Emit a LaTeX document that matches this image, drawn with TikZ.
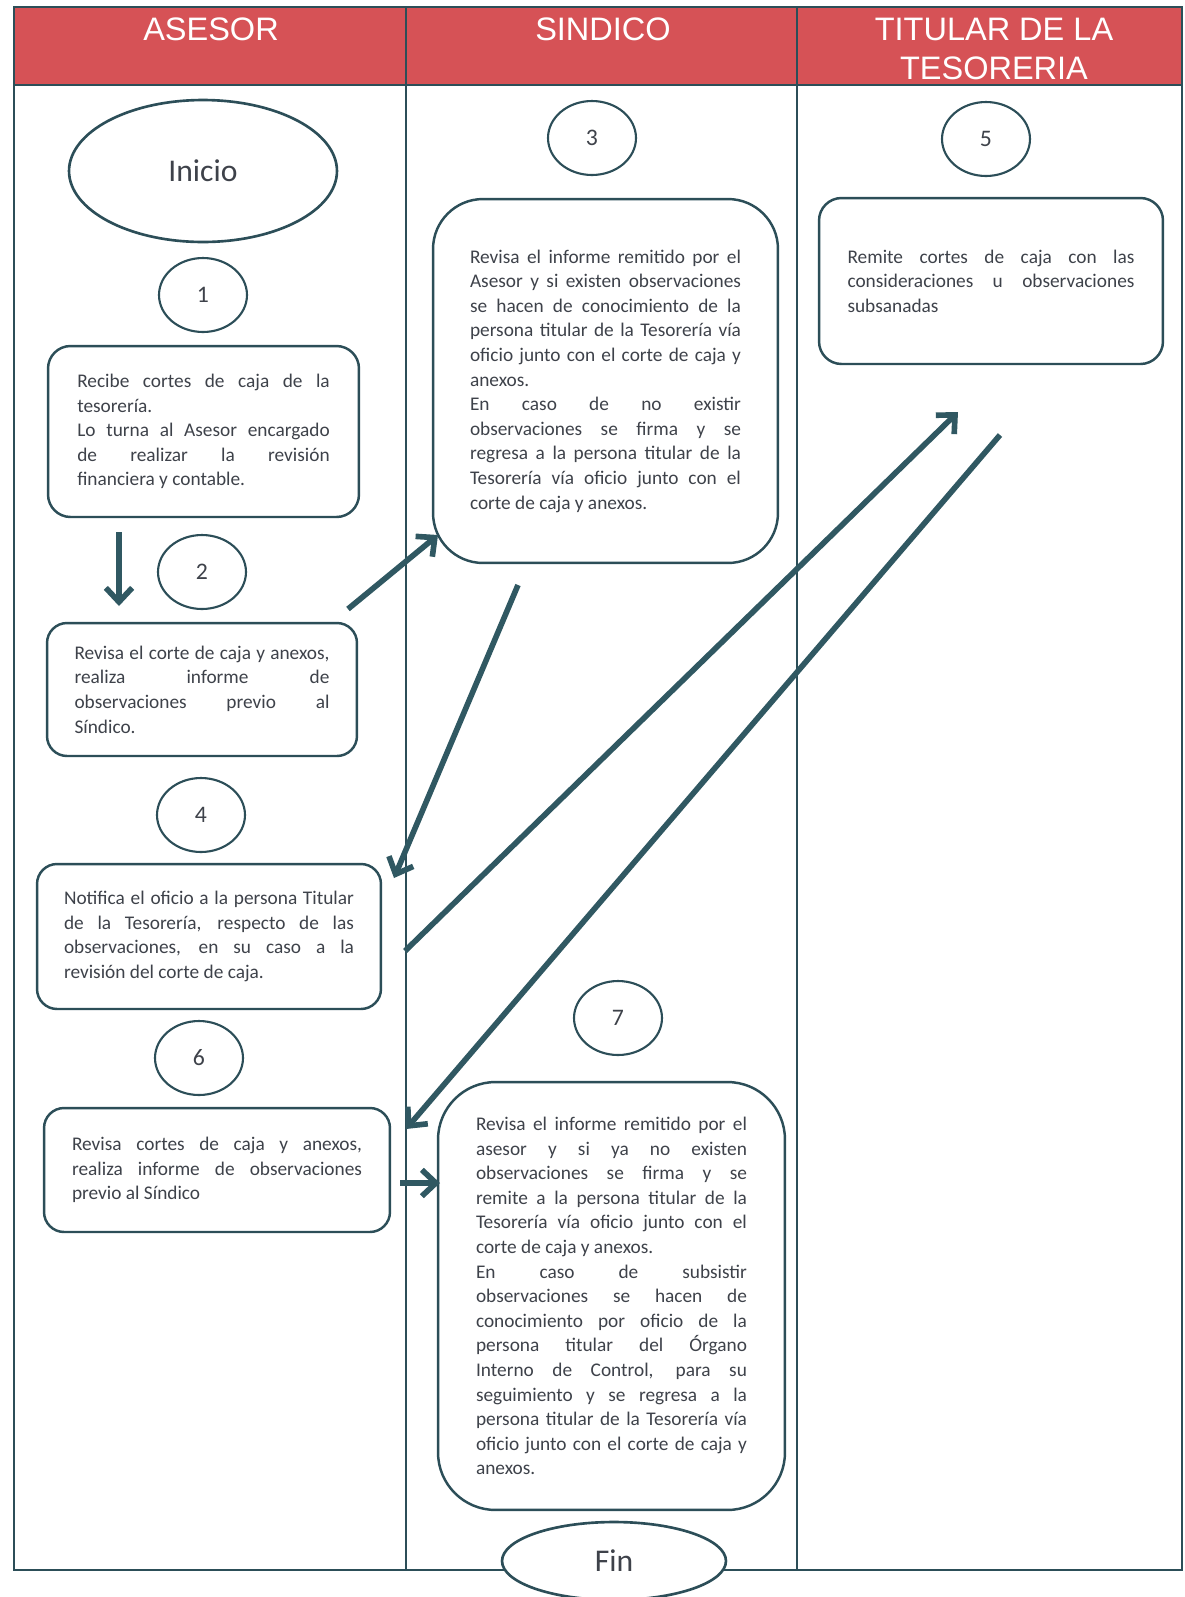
\documentclass[tikz,border=0pt]{standalone}
\usepackage{fontspec}
\setmainfont{Carlito}
\newfontfamily\headfont{Liberation Sans}
\usetikzlibrary{shapes.geometric,arrows.meta}

\definecolor{lanered}{RGB}{214,82,86}
\definecolor{inkline}{RGB}{44,78,88}
\definecolor{inkarrow}{RGB}{48,88,98}
\definecolor{inktext}{RGB}{62,66,74}
\newcommand\textocaja{\fontsize{11}{14}\selectfont\tolerance=10000 \hbadness=10000 \hyphenpenalty=10000 }

\begin{document}
\begin{tikzpicture}[x=0.02cm,y=-0.02cm,
    caja/.style={draw=inkline,line width=1.4pt,fill=white,text=inktext,align=justify,font=\textocaja,inner sep=0pt},
    num/.style={ellipse,draw=inkline,line width=1.2pt,minimum width=1.76cm,minimum height=1.48cm,inner sep=0pt,text=inktext,font=\fontsize{13.5}{15}\selectfont},
    term/.style={ellipse,draw=inkline,line width=1.5pt,fill=white,inner sep=0pt,text=inktext,font=\fontsize{18}{20}\selectfont},
    flecha/.style={draw=inkarrow,line width=3.2pt,-{Straight Barb[length=8pt,width=15pt]}},
    carril/.style={draw=inkline,line width=1.6pt},
    titulo/.style={text=white,font=\headfont\fontsize{18.5}{22.2}\selectfont,align=center}]
        \useasboundingbox (0,0) rectangle (1185,1597);
        \fill[white] (0,0) rectangle (1185,1597);
        % carriles
        \fill[lanered] (14,7) rectangle (1182,85);
        \draw[carril] (14,7) rectangle (1182,1570);
        \draw[carril] (14,85) -- (1182,85);
        \draw[carril] (406,7) -- (406,1570);
        \draw[carril] (797,7) -- (797,1570);
        \node[titulo] (tAsesor) at (211,29) {ASESOR};
        \node[titulo] (tSindico) at (603,29) {SINDICO};
        \node[titulo] (tTitular) at (994,49) {TITULAR DE LA\\TESORERIA};

        % asesor
        \node[term,minimum width=5.36cm,minimum height=2.84cm] (inicio) at (203,171) {Inicio};
        \node[num] (n1) at (203,295) {1};
        \node[caja,rounded corners=0.45cm,minimum width=6.22cm,minimum height=3.42cm,text width=5.05cm] (p1) at (203.5,431.5)
            {Recibe cortes de caja de la\linebreak tesorería.\\Lo turna al Asesor encargado\linebreak de realizar la revisión\linebreak financiera y contable.};
        \node[num] (n2) at (202,572) {2};
        \node[caja,rounded corners=0.4cm,minimum width=6.2cm,minimum height=2.66cm,text width=5.1cm] (p2) at (202,689.5)
            {Revisa el corte de caja y anexos,\linebreak realiza informe de\linebreak observaciones previo al\linebreak Síndico.};
        \node[num] (n4) at (201,815) {4};
        \node[caja,rounded corners=0.4cm,minimum width=6.88cm,minimum height=2.9cm,text width=5.8cm] (p4) at (209,936.5)
            {Notifica el oficio a la persona Titular\linebreak de la Tesorería, respecto de las\linebreak observaciones, en su caso a la\linebreak revisión del corte de caja.};
        \node[num] (n6) at (199,1058) {6};
        \node[caja,rounded corners=0.4cm,minimum width=6.92cm,minimum height=2.48cm,text width=5.8cm] (p6) at (217,1170)
            {Revisa cortes de caja y anexos,\linebreak realiza informe de observaciones\linebreak previo al Síndico};

        % sindico
        \node[num] (n3) at (592,138) {3};
        \node[caja,rounded corners=1cm,minimum width=6.9cm,minimum height=7.28cm,text width=5.42cm] (p3) at (605.5,381)
            {Revisa el informe remitido por el\linebreak Asesor y si existen observaciones\linebreak se hacen de conocimiento de la\linebreak persona titular de la Tesorería vía\linebreak oficio junto con el corte de caja y\linebreak anexos.\\En caso de no existir\linebreak observaciones se firma y se\linebreak regresa a la persona titular de la\linebreak Tesorería vía oficio junto con el\linebreak corte de caja y anexos.};
        \node[num] (n7) at (618,1018) {7};
        \node[caja,rounded corners=1.15cm,minimum width=6.94cm,minimum height=8.56cm,text width=5.42cm] (p7) at (611.5,1296)
            {Revisa el informe remitido por el\linebreak asesor y si ya no existen\linebreak observaciones se firma y se\linebreak remite a la persona titular de la\linebreak Tesorería vía oficio junto con el\linebreak corte de caja y anexos.\\En caso de subsistir\linebreak observaciones se hacen de\linebreak conocimiento por oficio de la\linebreak persona titular del Órgano\linebreak Interno de Control, para su\linebreak seguimiento y se regresa a la\linebreak persona titular de la Tesorería vía\linebreak oficio junto con el corte de caja y\linebreak anexos.};
        \node[term,minimum width=4.48cm,minimum height=1.56cm] (fin) at (614,1561) {Fin};

        % titular de la tesoreria
        \node[num] (n5) at (986,139) {5};
        \node[caja,rounded corners=0.45cm,minimum width=6.88cm,minimum height=3.32cm,text width=5.74cm] (p5) at (991,281)
            {Remite cortes de caja con las\linebreak consideraciones u observaciones\linebreak subsanadas};

        % flechas
        \coordinate (f1a) at (119,532);
        \coordinate (f1b) at (119,606);
        \coordinate (f2a) at (348,609);
        \coordinate (f2b) at (438,535);
        \coordinate (f3a) at (518,585);
        \coordinate (f3b) at (394,878);
        \coordinate (f4a) at (405,951);
        \coordinate (f4b) at (958,412);
        \coordinate (f5a) at (1000,435);
        \coordinate (f5b) at (406,1129);
        \coordinate (f6a) at (400,1183);
        \coordinate (f6b) at (440,1183);
        \draw[flecha] (f1a) -- (f1b);
        \draw[flecha] (f2a) -- (f2b);
        \draw[flecha] (f3a) -- (f3b);
        \draw[flecha] (f4a) -- (f4b);
        \draw[flecha] (f5a) -- (f5b);
        \draw[flecha] (f6a) -- (f6b);
    \end{tikzpicture}
\end{document}
